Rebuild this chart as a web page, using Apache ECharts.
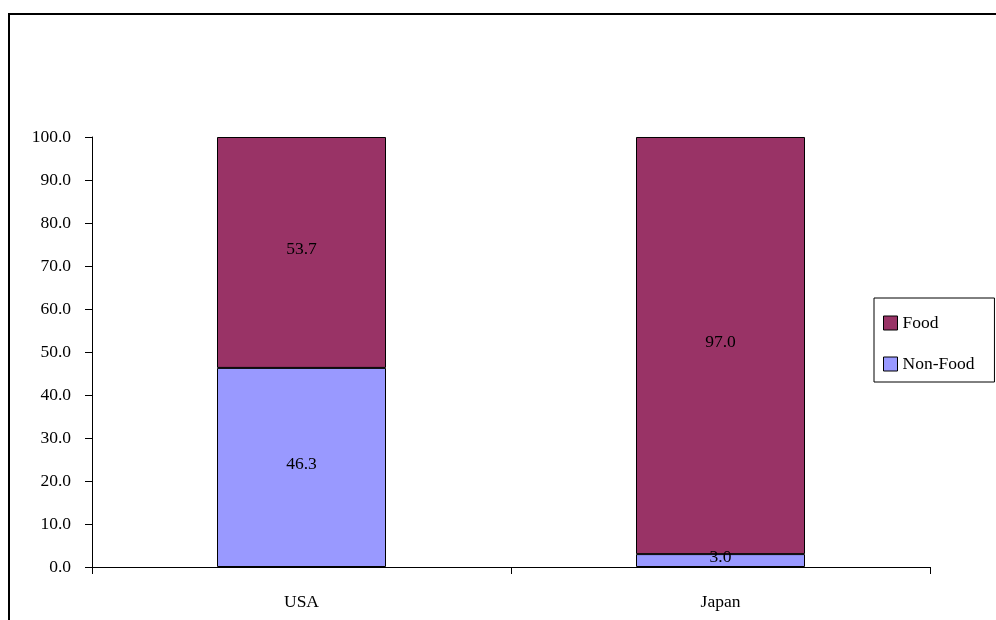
<!DOCTYPE html>
<html>
<head>
<meta charset="utf-8">
<script src="https://cdn.jsdelivr.net/npm/echarts@6/dist/echarts.min.js"></script>
<style>
	html, body { margin: 0; padding: 0; background: #fff; }
	#chart { width: 996px; height: 620px; }
</style>
</head>
<body>
<div id="chart"></div>
<script>
// chart values
const categories = ['USA', 'Japan'];
const foodValues = [53.7, 97.0];
const nonFoodValues = [46.3, 3.0];
const yTicks = { min: 0, max: 100, interval: 10 };

const fontFam = '"Liberation Serif", "Times New Roman", serif';
const fs = 17.5;

var chartDom = document.getElementById('chart');
var myChart = echarts.init(chartDom);

function labelFmt(p) {
	return p.value.toFixed(1);
}

var option = {
	animation: false,
	textStyle: { fontFamily: fontFam },
	grid: { left: 92, right: 66, top: 137, bottom: 53 },
	graphic: [
		{
			type: 'rect',
			shape: { x: 9, y: 14, width: 1000, height: 620 },
			style: { fill: 'none', stroke: '#000', lineWidth: 2 },
			silent: true,
		},
	],
	legend: {
		orient: 'vertical',
		left: 874,
		top: 298,
		padding: [16, 20, 9, 9],
		itemGap: 23,
		itemWidth: 14,
		itemHeight: 14,
		borderColor: '#000',
		borderWidth: 1,
		backgroundColor: '#fff',
		icon: 'rect',
		itemStyle: { borderColor: '#000', borderWidth: 1 },
		textStyle: {
			fontFamily: fontFam,
			fontSize: fs,
			color: '#000',
		},
		data: ['Food', 'Non-Food'],
	},
	xAxis: {
		type: 'category',
		data: categories,
		axisLine: { lineStyle: { color: '#000' } },
		axisTick: { show: true, length: 7, alignWithLabel: false, lineStyle: { color: '#000' } },
		axisLabel: { color: '#000', fontFamily: fontFam, fontSize: fs, margin: 26 },
	},
	yAxis: {
		type: 'value',
		min: yTicks.min,
		max: yTicks.max,
		interval: yTicks.interval,
		axisLine: { show: true, lineStyle: { color: '#000' } },
		axisTick: { show: true, length: 7, lineStyle: { color: '#000' } },
		splitLine: { show: false },
		axisLabel: {
			color: '#000',
			fontFamily: fontFam,
			fontSize: fs,
			margin: 21,
			padding: [0, 0, 5, 0],
			formatter: (v) => v.toFixed(1),
		},
	},
	series: [
		{
			name: 'Non-Food',
			type: 'bar',
			stack: 'total',
			barWidth: 169,
			data: nonFoodValues,
			itemStyle: { color: '#9999FF', borderColor: '#000', borderWidth: 1 },
			label: {
				show: true,
				position: 'inside',
				offset: [0, -3],
				color: '#000',
				fontFamily: fontFam,
				fontSize: fs,
				formatter: labelFmt,
			},
		},
		{
			name: 'Food',
			type: 'bar',
			stack: 'total',
			barWidth: 169,
			data: foodValues,
			itemStyle: { color: '#993366', borderColor: '#000', borderWidth: 1 },
			label: {
				show: true,
				position: 'inside',
				offset: [0, -3],
				color: '#000',
				fontFamily: fontFam,
				fontSize: fs,
				formatter: labelFmt,
			},
		},
	],
};
option && myChart.setOption(option);
</script>
</body>
</html>
